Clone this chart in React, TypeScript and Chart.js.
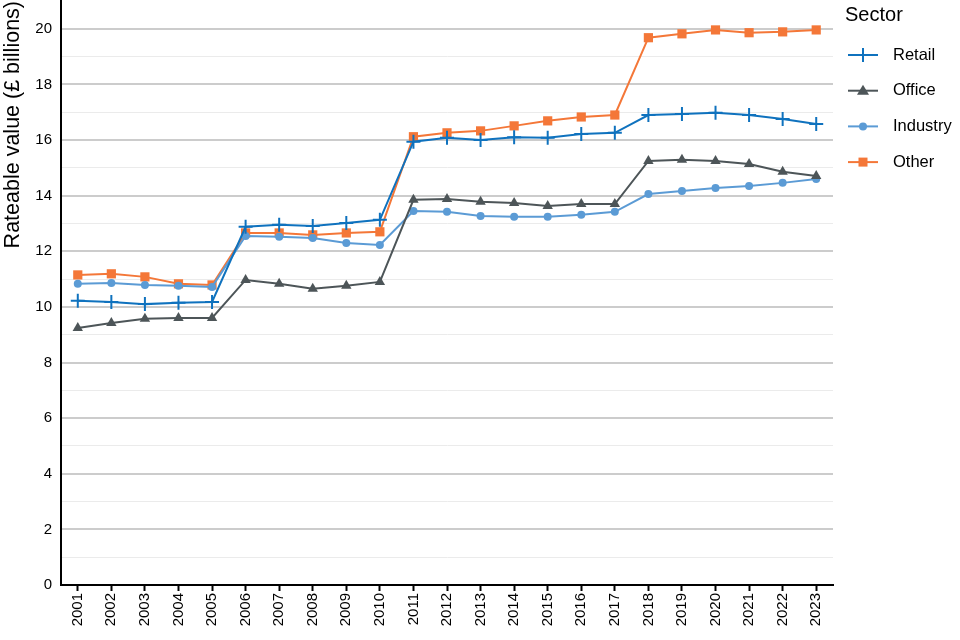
import React, { useEffect, useRef } from "react";
import { Chart, registerables } from "chart.js";

Chart.register(...registerables);

const years = ["2001","2002","2003","2004","2005","2006","2007","2008","2009","2010","2011","2012","2013","2014","2015","2016","2017","2018","2019","2020","2021","2022","2023"];
const retail = [10.22,10.18,10.1,10.15,10.18,12.88,12.95,12.91,13.02,13.13,15.94,16.08,16.0,16.1,16.08,16.22,16.26,16.9,16.94,16.98,16.9,16.76,16.58];
const office = [9.24,9.42,9.57,9.6,9.6,10.97,10.83,10.65,10.76,10.9,13.85,13.88,13.78,13.74,13.63,13.7,13.7,15.25,15.29,15.25,15.14,14.86,14.71];
const industry = [10.83,10.86,10.79,10.76,10.72,12.55,12.52,12.48,12.3,12.23,13.45,13.42,13.27,13.24,13.24,13.31,13.42,14.06,14.17,14.28,14.35,14.46,14.6];
const other = [11.15,11.19,11.08,10.83,10.79,12.66,12.66,12.59,12.66,12.7,16.12,16.26,16.33,16.51,16.69,16.83,16.9,19.68,19.82,19.96,19.86,19.89,19.96];
const seriesNames = ["Retail", "Office", "Industry", "Other"];
const legendTitle = "Sector";
const yTitle = "Rateable value (£ billions)";

const FONT = "'Liberation Sans', Arial, sans-serif";
const SHIFT = 8;

const legendPlugin = {
  id: "sideLegend",
  afterDraw(chart: any) {
    const ctx = chart.ctx;
    ctx.save();
    ctx.translate(0, SHIFT);
    ctx.fillStyle = "#000";
    ctx.font = `20px ${FONT}`;
    ctx.textBaseline = "middle";
    ctx.textAlign = "left";
    ctx.fillText(legendTitle, 845, 15);
    chart.data.datasets.forEach((ds: any, i: number) => {
      const y = 55 + i * 35.7;
      ctx.strokeStyle = ds.borderColor;
      ctx.lineWidth = 2;
      ctx.beginPath();
      ctx.moveTo(848, y);
      ctx.lineTo(878, y);
      ctx.stroke();
      ctx.fillStyle = ds.backgroundColor;
      ctx.strokeStyle = ds.borderColor;
      const ps = ds.pointStyle;
      if (ps === "cross") {
        ctx.beginPath();
        ctx.moveTo(863, y - 7);
        ctx.lineTo(863, y + 7);
        ctx.stroke();
      } else if (ps === "triangle") {
        ctx.beginPath();
        ctx.moveTo(863, y - 6);
        ctx.lineTo(869, y + 4);
        ctx.lineTo(857, y + 4);
        ctx.closePath();
        ctx.fill();
      } else if (ps === "circle") {
        ctx.beginPath();
        ctx.arc(863, y, 4, 0, Math.PI * 2);
        ctx.fill();
      } else {
        ctx.fillRect(858.5, y - 4.5, 9, 9);
      }
      ctx.fillStyle = "#000";
      ctx.font = `16.5px ${FONT}`;
      ctx.fillText(ds.label, 893, y);
    });
    ctx.restore();
  },
};

export default function App() {
  const ref = useRef<HTMLCanvasElement>(null);
  useEffect(() => {
    document.body.style.margin = "0";
    const colors = ["#0F72BE", "#4D5558", "#5B9BD5", "#F47738"];
    const styles = ["cross", "triangle", "circle", "rect"];
    const radii = [7, 6, 4, 6.5];
    const data = [retail, office, industry, other];
    const chart = new Chart(ref.current!, {
      type: "line",
      data: {
        labels: years,
        datasets: data.map((d, i) => ({
          label: seriesNames[i],
          data: d,
          borderColor: colors[i],
          backgroundColor: colors[i],
          borderWidth: 2,
          pointStyle: styles[i] as any,
          pointRadius: radii[i],
          pointBorderWidth: i === 0 ? 2 : 0,
          pointBorderColor: colors[i],
          pointBackgroundColor: colors[i],
          tension: 0,
          clip: false as any,
        })),
      },
      options: {
        animation: false,
        responsive: false,
        layout: { padding: { top: 0, right: 127, left: 0, bottom: 0 } },
        plugins: { legend: { display: false }, tooltip: { enabled: false } },
        scales: {
          x: {
            offset: true,
            grid: { display: true, drawOnChartArea: false, drawTicks: true, tickLength: 6, tickColor: "#000", tickWidth: 2 } as any,
            border: { color: "#000", width: 2 },
            ticks: {
              color: "#000",
              font: { family: FONT, size: 15 },
              maxRotation: 90,
              minRotation: 90,
              autoSkip: false,
              padding: 2,
            },
            afterFit(s: any) { s.height = 55; },
          },
          y: {
            min: 0,
            max: 21,
            grid: {
              drawTicks: false,
              color: (c: any) => (c.tick.value % 2 === 0 ? "#cccccc" : "#ebebeb"),
              lineWidth: (c: any) => (c.tick.value % 2 === 0 ? 2 : 1),
            },
            border: { color: "#000", width: 2 },
            ticks: {
              stepSize: 1,
              color: "#000",
              font: { family: FONT, size: 15 },
              padding: 9,
              callback: (v: any) => (Number(v) % 2 === 0 ? String(v) : ""),
            },
            afterBuildTicks(s: any) { s.ticks = s.ticks.filter((t: any) => t.value <= 20); },
            title: { display: true, align: "end", text: yTitle, color: "#000", font: { family: FONT, size: 21.5 }, padding: { top: 0, bottom: 2 } },
            afterFit(s: any) { s.width = 61; s.paddingTop = 0; },
          },
        },
      },
      plugins: [legendPlugin],
    });
    return () => chart.destroy();
  }, []);
  return (
    <div style={{ width: 960, height: 640, overflow: "hidden", position: "relative" }}>
      <canvas
        ref={ref}
        width={960}
        height={640 + SHIFT}
        style={{ display: "block", position: "absolute", left: 0, top: -SHIFT }}
      />
    </div>
  );
}
